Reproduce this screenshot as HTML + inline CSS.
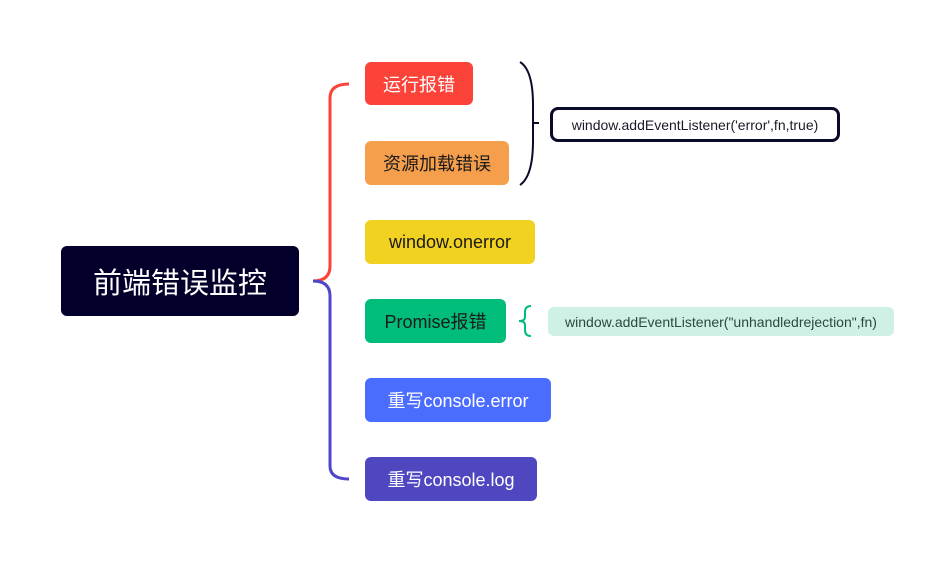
<!DOCTYPE html>
<html><head><meta charset="utf-8"><style>
body{margin:0;width:933px;height:587px;background:#fff;position:relative;overflow:hidden;font-family:"Liberation Sans","Noto Sans CJK SC",sans-serif}
.n{position:absolute;border-radius:6px;display:flex;align-items:center;justify-content:center;font-size:18px;box-sizing:border-box}
</style></head><body>
<svg width="933" height="587" style="position:absolute;left:0;top:0">
<path d="M313 281 Q330 281 330 266 L330 98 Q330 84 349 84" fill="none" stroke="#fb4339" stroke-width="3"/>
<path d="M313 281 Q330 281 330 296 L330 466 Q330 479 349 479" fill="none" stroke="#4f47c8" stroke-width="3"/>
<path d="M520 62 Q533 70 533 105 L533 141 Q533 176 520 185 M533 123 L539 123" fill="none" stroke="#0a0a2a" stroke-width="2"/>
<path d="M531 306 Q525 306 525 312 L525 317 Q525 321 519 321 Q525 321 525 325 L525 330 Q525 336 531 336" fill="none" stroke="#00bd7a" stroke-width="2"/>
</svg>
<div class="n" style="left:61px;top:246px;width:238px;height:70px;background:#02002a;color:#fff;font-size:29px">前端错误监控</div>
<div class="n" style="left:365px;top:62px;width:108px;height:43px;background:#fb4339;color:#fff">运行报错</div>
<div class="n" style="left:365px;top:141px;width:144px;height:44px;background:#f59e4c;color:#1a1a1a">资源加载错误</div>
<div class="n" style="left:365px;top:220px;width:170px;height:44px;background:#f2d220;color:#1a1a1a">window.onerror</div>
<div class="n" style="left:365px;top:299px;width:141px;height:44px;background:#00bd7a;color:#1a1a1a">Promise报错</div>
<div class="n" style="left:365px;top:378px;width:186px;height:44px;background:#4a6cff;color:#fff">重写console.error</div>
<div class="n" style="left:365px;top:457px;width:172px;height:44px;background:#4f47c0;color:#fff">重写console.log</div>
<div class="n" style="left:550px;top:107px;width:290px;height:35px;border:3px solid #0a0a2a;border-radius:8px;font-size:14px;color:#1a1a2a">window.addEventListener('error',fn,true)</div>
<div class="n" style="left:548px;top:307px;width:346px;height:29px;background:#cff0e4;font-size:14px;color:#2a4a40">window.addEventListener("unhandledrejection",fn)</div>
</body></html>
